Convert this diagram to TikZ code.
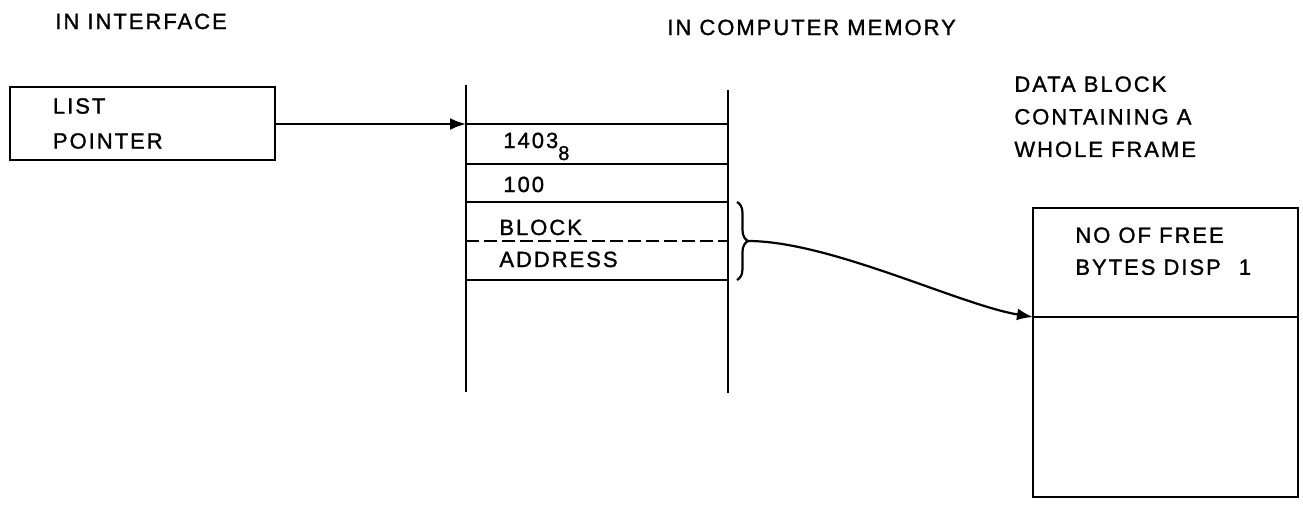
\documentclass[tikz,border=0pt]{standalone}
\usepackage{fontspec}
\setmainfont{Liberation Sans}[LetterSpace=9, FakeBold=1.2]
\usetikzlibrary{arrows.meta,decorations.pathreplacing}
\tikzstyle{plainText}=[inner sep = 0pt, anchor = base west, font = \fontsize{11}{16.5}\selectfont]
\tikzstyle{blockText}=[inner sep = 0pt, anchor = north west, align = left, font = \fontsize{11}{16.3}\selectfont]
\tikzstyle{memLine}=[line width = 1.1pt]
\tikzstyle{pointerArrow}=[line width = 1.1pt, -{Latex[length=8pt,width=6pt]}]

\begin{document}
\begin{tikzpicture}[x = 0.5pt, y = -0.5pt]
\useasboundingbox (0,0) rectangle (1303,511);
% headings
\node[plainText] (hi) at (55,29) {IN INTERFACE};
\node[plainText] (hm) at (667,35) {IN COMPUTER MEMORY};
\node[blockText] (hd) at (1014,76) {DATA BLOCK\\CONTAINING A\\WHOLE FRAME};
% list pointer
\node[memLine, draw, align = left, font = \fontsize{11}{17.5}\selectfont,
  minimum width = 132.5pt, minimum height = 36.5pt, text width = 89.5pt,
  inner xsep = 21.5pt] (lp) at (142.5,123.5) {LIST\\POINTER};
% memory column
\coordinate (c0) at (466,85);
\coordinate (c1) at (466,392);
\coordinate (c2) at (728,90);
\coordinate (c3) at (728,393);
\coordinate (r0) at (466,124);
\coordinate (r1) at (466,164);
\coordinate (r2) at (466,202);
\coordinate (r3) at (466,241);
\coordinate (r4) at (466,280);
\draw[memLine] (c0) -- (c1);
\draw[memLine] (c2) -- (c3);
\draw[memLine] (r0) -- (r0 -| c2);
\draw[memLine] (r1) -- (r1 -| c2);
\draw[memLine] (r2) -- (r2 -| c2);
\draw[memLine, dash pattern = on 6.5pt off 2.5pt] (r3) -- (r3 -| c2);
\draw[memLine] (r4) -- (r4 -| c2);
\node[plainText] (m0) at (503,148) {1403\raisebox{-6pt}{\fontsize{10}{10}\selectfont 8}};
\node[plainText] (m1) at (503,192) {100};
\node[plainText] (m2) at (499,235) {BLOCK};
\node[plainText] (m3) at (499,267) {ADDRESS};
\draw[pointerArrow] (lp.east |- r0) -- (r0);
% block address brace
\coordinate (b0) at (737,202);
\coordinate (b1) at (737,280);
\coordinate (bt) at (748,241);
\draw[memLine, decorate, decoration = {brace, amplitude = 5.5pt}] (b0) -- (b1);
% data block
\node[memLine, draw, minimum width = 132.5pt, minimum height = 144.5pt] (db) at (1165.5,352.5) {};
\coordinate (dl) at (1033,317);
\coordinate (dr) at (1298,317);
\draw[memLine] (dl) -- (dr);
\node[blockText, font = \fontsize{11}{16}\selectfont] (dt) at (1075,227) {NO OF FREE\\BYTES DISP\hspace{9pt}1};
\draw[pointerArrow] (bt) .. controls (830,241) and (960,305) .. (dl);
\end{tikzpicture}
\end{document}
